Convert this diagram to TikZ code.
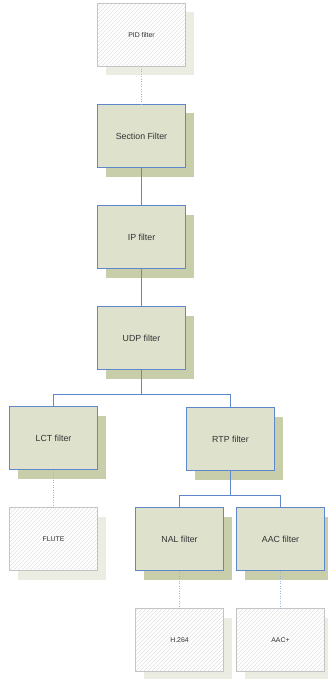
\documentclass[tikz,border=0pt]{standalone}
\usepackage{fontspec}
\setmainfont{Liberation Sans}
\definecolor{boxfill}{HTML}{DEE1CC}
\definecolor{boxshadow}{HTML}{C8CDAA}
\definecolor{boxline}{HTML}{5F88CC}
\definecolor{hatchline}{HTML}{C4C4C4}
\definecolor{hatchshadow}{HTML}{ECEDE2}
\definecolor{hatchstroke}{HTML}{E4E4E4}
\definecolor{dotline}{HTML}{9FB4DC}
\definecolor{txt}{HTML}{333333}
\begin{document}
\begin{tikzpicture}[x=1pt,y=-1pt,
  filterbox/.style={draw=boxline, line width=1pt, fill=boxfill, minimum width=88pt, minimum height=63pt, inner sep=0pt,
    outer sep=0pt, text=txt, font=\fontsize{8.8}{10}\selectfont,
    preaction={fill=boxshadow, draw=none, transform canvas={shift={(8pt,-9pt)}}}},
  outbox/.style={draw=hatchline, line width=1pt, fill=white, outer sep=0pt,
    preaction={fill=hatchshadow, draw=none, transform canvas={shift={(8pt,-9pt)}}},
    path picture={\foreach \i in {-64,-60,...,92}
      \draw[hatchstroke, line width=0.5pt] ([xshift=\i pt]path picture bounding box.south west) -- ++(70pt,70pt);},
    minimum width=88pt, minimum height=63pt, inner sep=0pt,
    text=txt, font=\fontsize{6.9}{8}\selectfont},
  solidlink/.style={draw=boxline, line width=1pt},
  dotlink/.style={draw=dotline, line width=1pt, dash pattern=on 1pt off 1.5pt}]
\useasboundingbox (0,0) rectangle (328,679);
\node[outbox] (pid) at (141.5,35) {PID filter};
\node[filterbox] (sec) at (141.5,136) {Section Filter};
\node[filterbox] (ip) at (141.5,237) {IP filter};
\node[filterbox] (udp) at (141.5,338) {UDP filter};
\node[filterbox] (lct) at (53.5,438) {LCT filter};
\node[filterbox] (rtp) at (230.5,439) {RTP filter};
\node[outbox] (flute) at (53.5,539) {FLUTE};
\node[filterbox] (nal) at (179.5,539) {NAL filter};
\node[filterbox] (aac) at (280.5,539) {AAC filter};
\node[outbox] (h264) at (179.5,640) {H.264};
\node[outbox] (aacp) at (280.5,640) {AAC+};
\coordinate (j1) at (141.5,394.5);
\coordinate (j2) at (230.5,495.5);
\draw[dotlink] (pid.south) -- (sec.north);
\draw[solidlink] (sec.south) -- (ip.north);
\draw[solidlink] (ip.south) -- (udp.north);
\draw[solidlink] (udp.south) -- (j1);
\draw[solidlink] (lct.north) |- (j1) -| (rtp.north);
\draw[solidlink] (rtp.south) -- (j2);
\draw[solidlink] (nal.north) |- (j2) -| (aac.north);
\draw[dotlink] (lct.south) -- (flute.north);
\draw[dotlink] (nal.south) -- (h264.north);
\draw[dotlink] (aac.south) -- (aacp.north);
\end{tikzpicture}
\end{document}
